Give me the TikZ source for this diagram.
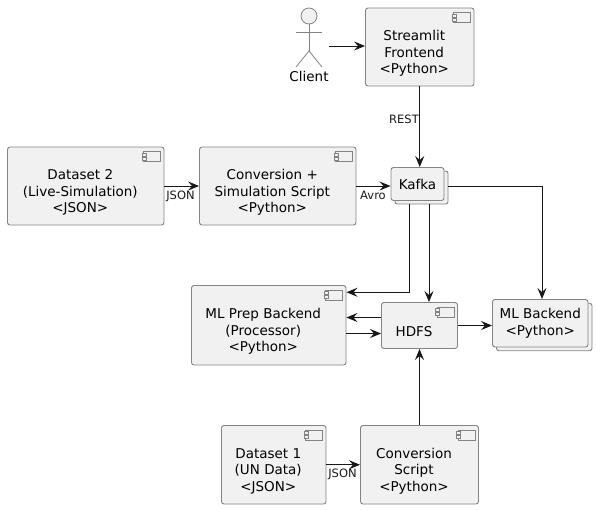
\documentclass[tikz,border=0pt]{standalone}
\usepackage{fontspec}
\setmainfont{DejaVu Sans}
\usetikzlibrary{arrows.meta}
\definecolor{boxfill}{HTML}{F1F1F1}
\definecolor{boxline}{HTML}{848484}
\definecolor{flowline}{HTML}{181818}
\tikzset{
  compbox/.style={draw=boxline, fill=boxfill, line width=0.9pt, rounded corners=2.5pt, inner sep=0pt, align=center, font=\fontsize{13.5}{16.5}\selectfont},
  comptext/.style={xshift=-5.5pt, yshift=-6.5pt, inner sep=0pt, align=center, font=\fontsize{13.5}{16.5}\selectfont},
  flow/.style={draw=flowline, line width=1pt, -{Stealth[length=11pt,width=9pt,inset=4pt]}},
  linklabel/.style={font=\fontsize{11.5}{14}\selectfont, inner sep=0pt, text=flowline},
  iconline/.style={draw=boxline, fill=boxfill, line width=0.6pt},
  actorline/.style={draw=boxline, line width=0.8pt}
}
\newcommand{\compicon}[1]{
  \draw [iconline] ([shift={(-21,5)}]#1.north east) rectangle ++(17,10);
  \draw [iconline] ([shift={(-22.5,6.5)}]#1.north east) rectangle ++(4,3);
  \draw [iconline] ([shift={(-22.5,10.5)}]#1.north east) rectangle ++(4,3);
}
\begin{document}
\begin{tikzpicture}[x=1pt,y=-1pt]
\useasboundingbox (0,0) rectangle (597,509);
% boxes
\node [compbox, minimum width=108.5pt, minimum height=78pt, label={[comptext]center:{Streamlit\\Frontend\\<Python>}}] (stream) at (419.75,47) {};
\node [compbox, minimum width=53pt, minimum height=33pt] (kafkab) at (421.5,187.5) {};
\node [compbox, minimum width=53pt, minimum height=33pt] (kafka) at (417.5,184) {Kafka};
\node [compbox, minimum width=156.5pt, minimum height=78pt, label={[comptext]center:{Dataset 2\\(Live-Simulation)\\<JSON>}}] (data2) at (85.75,186) {};
\node [compbox, minimum width=156.5pt, minimum height=78pt, label={[comptext]center:{Conversion +\\Simulation Script\\<Python>}}] (simconv) at (277.75,186) {};
\node [compbox, minimum width=154.5pt, minimum height=79.5pt, label={[comptext]center:{ML Prep Backend\\(Processor)\\<Python>}}] (prep) at (268.75,325.25) {};
\node [compbox, minimum width=76pt, minimum height=46pt, label={[comptext]center:HDFS}] (hdfs) at (419.5,325.5) {};
\node [compbox, minimum width=95.5pt, minimum height=47.5pt] (mlb) at (544.25,327) {};
\node [compbox, minimum width=95.5pt, minimum height=47.5pt] (ml) at (540.25,323.25) {ML Backend\\<Python>};
\node [compbox, minimum width=104.5pt, minimum height=78.5pt, label={[comptext]center:{Dataset 1\\(UN Data)\\<JSON>}}] (data1) at (273.75,464.75) {};
\node [compbox, minimum width=118pt, minimum height=78.5pt, label={[comptext]center:{Conversion\\Script\\<Python>}}] (conv) at (419.5,464.75) {};
\compicon{stream}
\compicon{data2}
\compicon{simconv}
\compicon{prep}
\compicon{hdfs}
\compicon{data1}
\compicon{conv}
% actor
\node [circle, draw=boxline, fill=boxfill, line width=0.8pt, minimum size=16pt, inner sep=0pt] (head) at (309,16) {};
\coordinate (hip) at (309,51);
\draw [actorline] (head.south) -- (hip);
\draw [actorline] (296,32) -- (322,32);
\draw [actorline] (296,67) -- (hip) -- (322,67);
\node [font=\fontsize{13.5}{16.5}\selectfont, inner sep=0pt] (clientname) at (309,76.5) {Client};
\node [minimum width=40pt, minimum height=76pt, inner sep=0pt] (client) at (309,46) {};
% connectors
\draw [flow] (client.east) -- (client.east -| stream.west);
\draw [flow] (stream.south) -- (stream.south |- kafka.north);
\draw [flow] (simconv.east) -- (simconv.east -| kafka.west);
\draw [flow] (data2.east) -- (simconv.west);
\draw [flow] ([xshift=-12pt]kafkab.south) |- ([yshift=33pt]prep.east);
\draw [flow] ([xshift=7.5pt]kafkab.south) -- ([xshift=7.5pt]kafkab.south |- hdfs.north);
\draw [flow] (kafkab.east |- simconv.east) -| ([xshift=1.75pt]ml.north);
\draw [flow] (hdfs.east) -- (hdfs.east -| ml.west);
\draw [flow] ([yshift=8pt]hdfs.west) -- ([yshift=8pt]hdfs.west -| prep.east);
\draw [flow] ([yshift=-8pt]hdfs.west -| prep.east) -- ([yshift=-8pt]hdfs.west);
\draw [flow] (conv.north) -- (conv.north |- hdfs.south);
\draw [flow] (data1.east) -- (conv.west);
% labels
\node [linklabel] (restlabel) at (404,119) {REST};
\node [linklabel] (jsontop) at (180.5,196) {JSON};
\node [linklabel] (avrolabel) at (373,195.5) {Avro};
\node [linklabel] (jsonlow) at (342.5,474.5) {JSON};
\end{tikzpicture}
\end{document}
